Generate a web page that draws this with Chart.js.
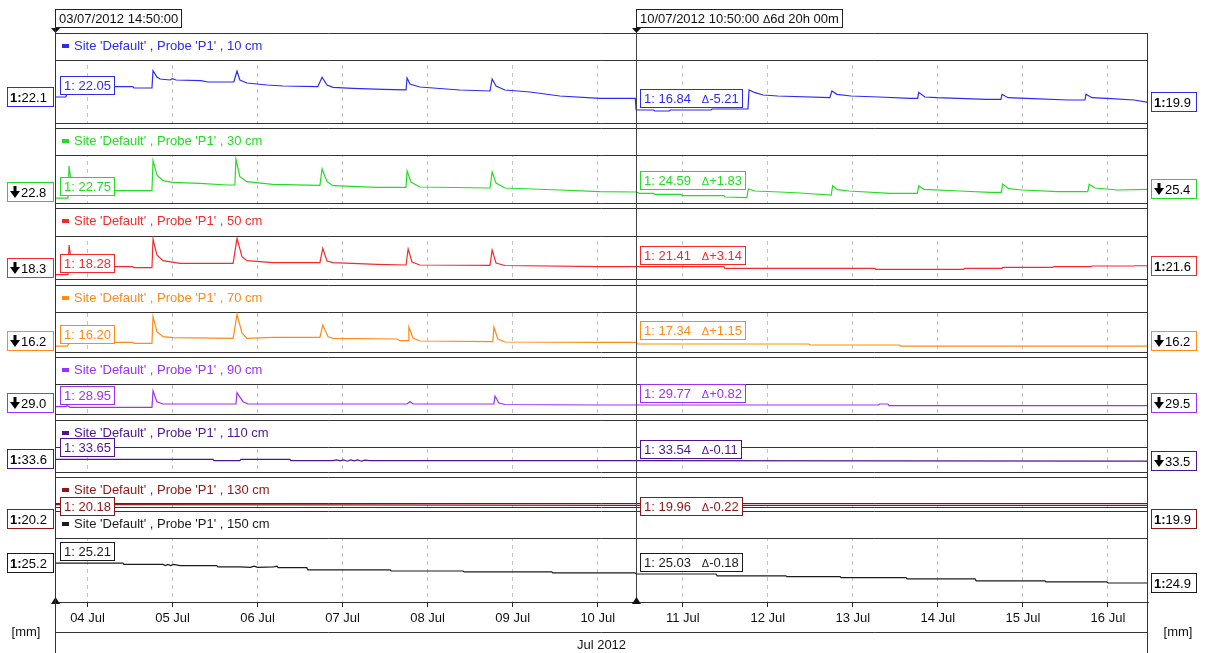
<!DOCTYPE html>
<html lang="en">
<head>
<meta charset="utf-8">
<title>Probe P1 by depth</title>
<script src="https://cdn.jsdelivr.net/npm/chart.js@4.4.1/dist/chart.umd.min.js"></script>
<style>
  html, body { margin: 0; padding: 0; background: #fff; }
  #probe-chart { display: block; }
</style>
</head>
<body>
<canvas id="probe-chart" width="1205" height="653"></canvas>
<script>
// Time runs in hours counted from 03/07/2012 00:00
const startHour = 14.833;    // 03/07/2012 14:50
const cursorHour = 178.833;  // 10/07/2012 10:50
const endHour = 323.3;

const dayTicks = [24, 48, 72, 96, 120, 144, 168, 192, 216, 240, 264, 288, 312];
const dayLabels = ['04 Jul', '05 Jul', '06 Jul', '07 Jul', '08 Jul', '09 Jul', '10 Jul',
                   '11 Jul', '12 Jul', '13 Jul', '14 Jul', '15 Jul', '16 Jul'];
const monthLabel = 'Jul 2012';
const unitLabel = '[mm]';
const cursorStamps = ['03/07/2012 14:50:00', '10/07/2012 10:50:00'];
const cursorSpan = '6d 20h 00m';

const depths = ['10 cm', '30 cm', '50 cm', '70 cm', '90 cm', '110 cm', '130 cm', '150 cm'];

// [hour, mm]
const probe10 = [[14.83, 22.05], [17.9, 22.05], [19.0, 26.16], [36.8, 26.16], [37.1, 25.64], [42.2, 25.64],
  [42.5, 32.56], [43.6, 30.04], [44.5, 29.24], [47.3, 28.84], [47.9, 29.36], [49.0, 28.84], [56.0, 28.56],
  [58.0, 28.04], [65.3, 28.04], [66.2, 32.44], [67.0, 28.84], [69.0, 27.64], [74.7, 26.84], [79.2, 26.44],
  [89.0, 26.16], [90.2, 29.92], [91.6, 26.84], [93.3, 25.92], [98.9, 25.52], [107.4, 25.12], [113.9, 24.9],
  [114.2, 29.64], [115.0, 27.24], [117.8, 26.04], [129.1, 24.84], [137.6, 24.44], [138.2, 29.24], [139.3, 26.44],
  [141.8, 24.84], [148.9, 24.04], [157.3, 22.44], [168.6, 21.52], [178.6, 21.52], [178.83, 16.84], [183.8, 16.84],
  [184.1, 16.44], [188.2, 16.44], [188.5, 16.84], [200.0, 16.84], [200.3, 17.24], [210.4, 17.24], [210.7, 24.84],
  [212.4, 23.76], [214.7, 22.84], [218.8, 22.44], [233.5, 21.76], [234.1, 24.44], [235.5, 23.12], [239.5, 22.44],
  [247.4, 22.04], [256.2, 21.52], [258.3, 21.52], [258.6, 23.92], [260.3, 22.04], [263.7, 21.76], [277.8, 21.12],
  [281.8, 21.12], [282.1, 23.12], [283.8, 21.76], [290.8, 21.4], [300.7, 20.84], [305.5, 20.84], [305.8, 23.12],
  [307.5, 21.76], [312.9, 21.4], [319.4, 20.84], [323.3, 19.9]];
const probe30 = [[14.83, 22.75], [18.5, 22.75], [18.8, 32.39], [19.3, 28.19], [20.5, 25.79], [21.9, 24.98],
  [42.2, 24.98], [42.5, 33.98], [43.6, 29.69], [45.3, 27.98], [48.1, 27.5], [55.7, 27.2], [63.4, 26.69],
  [65.6, 26.69], [65.9, 34.49], [67.0, 29.18], [69.0, 27.68], [76.3, 26.9], [89.6, 26.6], [90.2, 31.49],
  [91.6, 27.68], [93.3, 26.48], [105.7, 26.0], [113.9, 26.0], [114.2, 30.89], [115.3, 27.59], [117.8, 26.09],
  [137.6, 25.79], [138.2, 30.59], [139.3, 27.29], [141.8, 25.79], [157.3, 25.19], [168.6, 24.68], [178.83, 24.59],
  [179.8, 24.2], [183.8, 24.2], [184.1, 23.9], [191.5, 23.9], [191.8, 23.48], [203.6, 23.48], [203.9, 23.09],
  [210.1, 22.88], [210.5, 25.49], [212.4, 24.89], [219.4, 24.59], [225.1, 24.29], [233.9, 23.69], [234.3, 26.48],
  [235.6, 25.3], [238.9, 24.89], [250.5, 24.2], [258.2, 24.2], [258.6, 26.48], [260.0, 25.4], [270.2, 24.89],
  [278.7, 24.5], [281.9, 24.5], [282.3, 26.99], [284.0, 25.6], [287.7, 25.19], [297.9, 24.68], [306.3, 24.68],
  [306.7, 26.9], [308.3, 25.79], [314.8, 25.19], [323.3, 25.4]];
const probe50 = [[14.83, 18.28], [18.5, 18.28], [18.8, 30.09], [19.3, 24.89], [21.9, 21.41], [36.8, 21.41],
  [37.1, 21.01], [42.2, 21.01], [42.5, 32.37], [43.6, 26.09], [45.3, 23.81], [50.1, 22.77], [65.1, 22.77],
  [66.2, 32.77], [67.6, 25.41], [69.0, 23.81], [76.3, 23.01], [89.6, 23.01], [90.4, 28.77], [91.6, 23.69],
  [93.3, 23.01], [105.7, 22.37], [113.9, 22.09], [114.5, 28.49], [115.6, 23.29], [117.8, 22.09], [137.6, 21.97],
  [138.2, 28.09], [139.3, 22.89], [141.8, 21.89], [168.6, 21.41], [178.83, 21.41], [203.6, 21.41], [203.9, 20.77],
  [246.2, 20.77], [246.5, 20.37], [271.3, 20.37], [271.6, 20.77], [282.1, 20.77], [282.4, 21.17], [296.4, 21.17],
  [296.7, 21.45], [307.2, 21.45], [307.5, 21.69], [319.3, 21.69], [319.6, 21.8], [322.6, 21.8], [323.3, 21.6]];
const probe70 = [[14.83, 16.2], [18.2, 16.2], [19.1, 17.34], [36.8, 17.34], [37.1, 17.04], [42.2, 17.04],
  [42.5, 25.02], [43.6, 20.52], [45.3, 19.02], [48.1, 18.72], [65.1, 18.54], [66.2, 25.74], [67.6, 20.13],
  [69.0, 18.54], [76.3, 18.84], [89.6, 18.84], [90.4, 22.53], [91.9, 19.02], [93.3, 18.54], [111.3, 18.33],
  [112.2, 17.82], [114.5, 17.82], [114.7, 21.93], [115.9, 18.63], [117.8, 17.73], [138.4, 17.52], [138.7, 21.93],
  [139.8, 18.33], [141.8, 17.43], [168.6, 17.34], [178.83, 17.34], [179.2, 16.83], [227.6, 16.83], [227.9, 16.53],
  [253.2, 16.53], [253.5, 16.2], [323.3, 16.2]];
const probe90 = [[14.83, 28.95], [17.9, 28.95], [18.2, 29.52], [19.1, 28.62], [42.2, 28.62], [42.5, 36.77],
  [43.6, 31.42], [45.3, 30.27], [65.9, 30.27], [66.2, 35.92], [67.9, 31.42], [69.3, 30.27], [114.2, 30.27],
  [115.0, 31.52], [115.9, 30.27], [138.7, 30.27], [139.0, 34.27], [140.1, 30.77], [141.8, 30.02], [168.6, 29.77],
  [178.83, 29.77], [247.2, 29.77], [247.5, 30.27], [249.9, 30.27], [250.2, 29.5], [323.3, 29.5]];
const probe110 = [[14.83, 33.65], [59.4, 33.65], [59.7, 33.54], [67.0, 33.54], [67.3, 33.65], [81.1, 33.65],
  [81.4, 33.54], [93.3, 33.54], [94.3, 33.6], [95.3, 33.52], [96.3, 33.6], [97.3, 33.5], [98.3, 33.6],
  [99.3, 33.52], [100.3, 33.6], [101.3, 33.5], [102.3, 33.58], [103.7, 33.54], [178.83, 33.54], [323.3, 33.5]];
const probe130 = [[14.83, 20.18], [95.0, 20.1], [178.83, 19.96], [250.0, 19.93], [323.3, 19.9]];
const probe150 = [[14.83, 25.21], [34.0, 25.21], [34.3, 25.19], [45.3, 25.19], [46.0, 25.17], [46.7, 25.19],
  [47.5, 25.17], [48.3, 25.19], [50.1, 25.17], [60.5, 25.17], [60.8, 25.15], [67.0, 25.15], [70.0, 25.14],
  [71.0, 25.16], [72.0, 25.14], [76.5, 25.15], [77.5, 25.16], [77.8, 25.135], [85.9, 25.135], [86.2, 25.1],
  [109.4, 25.1], [109.7, 25.08], [130.0, 25.08], [130.3, 25.065], [155.0, 25.065], [155.3, 25.05], [178.5, 25.05],
  [178.83, 25.03], [201.4, 25.03], [201.7, 25.0], [221.1, 25.0], [221.4, 24.985], [236.4, 24.985], [236.7, 24.97],
  [255.0, 24.97], [255.3, 24.95], [274.5, 24.95], [274.8, 24.915], [294.2, 24.915], [294.5, 24.9], [311.7, 24.9],
  [312.0, 24.88], [323.3, 24.88]];
const series = [probe10, probe30, probe50, probe70, probe90, probe110, probe130, probe150];

const cursorValues = [16.84, 24.59, 21.41, 17.34, 29.77, 33.54, 19.96, 25.03];
const deltaLabels = ['-5.21', '+1.83', '+3.14', '+1.15', '+0.82', '-0.11', '-0.22', '-0.18'];
const leftReadout = ['1:22.1', '↓22.8', '↓18.3', '↓16.2', '↓29.0', '1:33.6', '1:20.2', '1:25.2'];
const rightReadout = ['1:19.9', '↓25.4', '1:21.6', '↓16.2', '↓29.5', '↓33.5', '1:19.9', '1:24.9'];

// panel layout (pixels) and value ranges of each strip
const panelGap = [0, 5, 5, 6, 5, 6, 5, 4];
const headerHeight = [27, 27, 28, 27, 27, 27, 26, 27];
const plotHeight = [63, 48, 43, 40, 30, 25, 4, 64];
const yRanges = [[11.64, 36.84], [21.29, 35.69], [16.49, 33.69], [14.43, 26.43],
                 [25.27, 40.27], [32.636, 34.636], [19.4, 20.7], [24.563, 25.63]];
const colors = ['#2b2bf2', '#22dd22', '#f42a2a', '#ff8a14', '#9b30f7', '#4e1591', '#8e1616', '#1c1c1c'];
const readoutLift = [3, 3, 3, 3, 3, 3, -10, 3];
const sideShift = [0, 0, 0, 0, 0, 0, 23, 0];

const FONT_FAMILY = "'Liberation Sans', Arial, Helvetica, sans-serif";
const F13 = `13px ${FONT_FAMILY}`;
const F13B = `bold 13px ${FONT_FAMILY}`;
const F11 = `11px ${FONT_FAMILY}`;

function hline(ctx, x1, x2, y) {
    const yy = Math.round(y) + 0.5;
    ctx.beginPath();
    ctx.moveTo(x1, yy);
    ctx.lineTo(x2, yy);
    ctx.stroke();
}

function vline(ctx, x, y1, y2) {
    const xx = Math.round(x) + 0.5;
    ctx.beginPath();
    ctx.moveTo(xx, y1);
    ctx.lineTo(xx, y2);
    ctx.stroke();
}

// runs are [text, font, dy]
function runWidth(ctx, runs) {
    let w = 0;
    runs.forEach(([t, f]) => { ctx.font = f; w += ctx.measureText(t).width; });
    return w;
}

function drawRuns(ctx, x, y, runs, color) {
    ctx.fillStyle = color;
    ctx.textBaseline = 'middle';
    ctx.textAlign = 'left';
    runs.forEach(([t, f, dy]) => {
        ctx.font = f;
        ctx.fillText(t, x, y + (dy || 0));
        x += ctx.measureText(t).width;
    });
}

function boxedRuns(ctx, x, top, runs, textColor, borderColor) {
    const h = 18;
    const w = Math.round(runWidth(ctx, runs)) + 7;
    const bx = Math.round(x), by = Math.round(top);
    ctx.fillStyle = '#fff';
    ctx.fillRect(bx, by, w, h);
    ctx.strokeStyle = borderColor;
    ctx.lineWidth = 1;
    ctx.strokeRect(bx + 0.5, by + 0.5, w, h);
    drawRuns(ctx, bx + 4, by + h / 2 + 1, runs, textColor);
}

function downArrow(ctx, cx, cy) {
    ctx.fillStyle = '#000';
    ctx.fillRect(cx - 1.5, cy - 6, 3, 6);
    ctx.beginPath();
    ctx.moveTo(cx - 5, cy - 1);
    ctx.lineTo(cx + 5, cy - 1);
    ctx.lineTo(cx, cy + 6);
    ctx.closePath();
    ctx.fill();
}

function sideReadout(ctx, x, w, cy, color, label) {
    const h = 20;
    const top = Math.round(cy - h / 2);
    ctx.fillStyle = '#fff';
    ctx.fillRect(x, top, w, h);
    ctx.strokeStyle = color;
    ctx.lineWidth = 1;
    ctx.strokeRect(x + 0.5, top + 0.5, w - 1, h - 1);
    const mid = top + h / 2 + 1;
    if (label[0] === '↓') {
        downArrow(ctx, x + 8, mid - 1);
        drawRuns(ctx, x + 14, mid, [[label.slice(1), F13]], '#000');
    } else {
        const k = label.indexOf(':') + 1;
        drawRuns(ctx, x + 3, mid, [[label.slice(0, k), F13B], [label.slice(k), F13]], '#000');
    }
}

function marker(ctx, x, tipY, baseY) {
    ctx.fillStyle = '#111';
    ctx.beginPath();
    ctx.moveTo(x - 4.5, baseY);
    ctx.lineTo(x + 4.5, baseY);
    ctx.lineTo(x, tipY);
    ctx.closePath();
    ctx.fill();
}

const panelDecor = {
    id: 'panelDecor',
    beforeDatasetsDraw(chart) {
        const ctx = chart.ctx;
        const { left, right } = chart.chartArea;
        ctx.save();
        // blank the grid behind every header strip first
        depths.forEach((d, i) => {
            const head = chart.scales['h' + i];
            ctx.fillStyle = '#fff';
            ctx.fillRect(left, head.top, right - left, head.bottom - head.top);
        });
        depths.forEach((depth, i) => {
            const head = chart.scales['h' + i];
            const plot = chart.scales['y' + i];
            const top = head.top + panelGap[i];
            ctx.strokeStyle = '#333';
            ctx.lineWidth = 1;
            hline(ctx, left, right, top);
            hline(ctx, left, right, plot.top);
            hline(ctx, left, right, plot.bottom);
            ctx.fillStyle = colors[i];
            ctx.fillRect(left + 7, top + 11, 7, 4);
            drawRuns(ctx, left + 19, top + 13, [[`Site 'Default' , Probe 'P1' , ${depth}`, F13]], colors[i]);
        });
        ctx.restore();
    },
    afterDatasetsDraw(chart) {
        const ctx = chart.ctx;
        const xs = chart.scales.x;
        const { left, right, bottom } = chart.chartArea;
        const cx = Math.round(xs.getPixelForValue(cursorHour));
        ctx.save();

        ctx.strokeStyle = '#444';
        ctx.lineWidth = 1;
        vline(ctx, cx, 27, bottom);

        series.forEach((pts, i) => {
            const ys = chart.scales['y' + i];
            const first = pts[0][1];
            const last = pts[pts.length - 1][1];
            const y0 = ys.getPixelForValue(first);
            const y1 = ys.getPixelForValue(cursorValues[i]);
            boxedRuns(ctx, left + 5, y0 - readoutLift[i] - 18,
                [['1: ' + first.toFixed(2), F13]], colors[i], colors[i]);
            boxedRuns(ctx, cx + 4, y1 - readoutLift[i] - 18,
                [['1: ' + cursorValues[i].toFixed(2), F13], ['   ', F13], ['Δ', F11, 1], [deltaLabels[i], F13]],
                colors[i], colors[i]);
            const limit = ys.bottom - 11;
            sideReadout(ctx, 7, 47, Math.min(y0, limit) + sideShift[i], colors[i], leftReadout[i]);
            sideReadout(ctx, right + 3, 46, Math.min(ys.getPixelForValue(last), limit) + sideShift[i],
                colors[i], rightReadout[i]);
        });

        // cursor time stamps
        boxedRuns(ctx, left, 9, [[cursorStamps[0], F13]], '#111', '#222');
        boxedRuns(ctx, cx, 9, [[cursorStamps[1] + ' ', F13], ['Δ', F11, 1], [cursorSpan, F13]], '#111', '#222');
        marker(ctx, left + 0.5, 33, 28);
        marker(ctx, cx + 0.5, 33, 28);
        marker(ctx, left + 0.5, 597, 604);
        marker(ctx, cx + 0.5, 597, 604);

        // frame and month row under the day labels
        ctx.strokeStyle = '#333';
        hline(ctx, left, right, 632);
        vline(ctx, left, 27, 653);
        vline(ctx, right - 1, 33, 653);
        ctx.fillStyle = '#111';
        ctx.font = F13;
        ctx.textAlign = 'center';
        ctx.textBaseline = 'middle';
        ctx.fillText(monthLabel, (left + right) / 2, 645);
        ctx.fillText(unitLabel, 26, 632);
        ctx.fillText(unitLabel, 1178, 632);
        ctx.restore();
    }
};

const scales = {
    x: {
        type: 'linear',
        position: 'bottom',
        min: startHour,
        max: endHour,
        afterBuildTicks: (scale) => { scale.ticks = dayTicks.map(v => ({ value: v })); },
        afterFit: (scale) => { scale.height = 51; },
        ticks: {
            autoSkip: false,
            maxRotation: 0,
            padding: 4,
            color: '#111',
            font: { family: FONT_FAMILY, size: 13 },
            callback: (value, index) => dayLabels[index]
        },
        grid: { color: '#c4c4c4', lineWidth: 1, tickColor: '#222', tickLength: 5 },
        border: { display: true, color: '#333', width: 1, dash: [4, 4] }
    }
};

// one header strip and one plot strip per depth, stacked top to bottom
depths.forEach((d, i) => {
    const strip = {
        type: 'linear',
        position: 'right',
        stack: 'probes',
        ticks: { display: false },
        grid: { display: false, drawTicks: false },
        border: { display: false },
        afterFit: (scale) => { scale.width = 0; }
    };
    scales['h' + i] = { ...strip, stackWeight: panelGap[i] + headerHeight[i], min: 0, max: 1 };
    scales['y' + i] = { ...strip, stackWeight: plotHeight[i], min: yRanges[i][0], max: yRanges[i][1] };
});

new Chart(document.getElementById('probe-chart').getContext('2d'), {
    type: 'line',
    data: {
        datasets: series.map((pts, i) => ({
            label: depths[i],
            data: pts.map(p => ({ x: p[0], y: p[1] })),
            xAxisID: 'x',
            yAxisID: 'y' + i,
            borderColor: colors[i],
            borderWidth: 1.2,
            pointRadius: 0,
            fill: false,
            tension: 0
        }))
    },
    options: {
        responsive: false,
        animation: false,
        devicePixelRatio: 1,
        events: [],
        layout: { padding: { top: 33, left: 55, right: 57, bottom: 0 } },
        scales: scales,
        plugins: {
            legend: { display: false },
            tooltip: { enabled: false }
        }
    },
    plugins: [panelDecor]
});
</script>
</body>
</html>
